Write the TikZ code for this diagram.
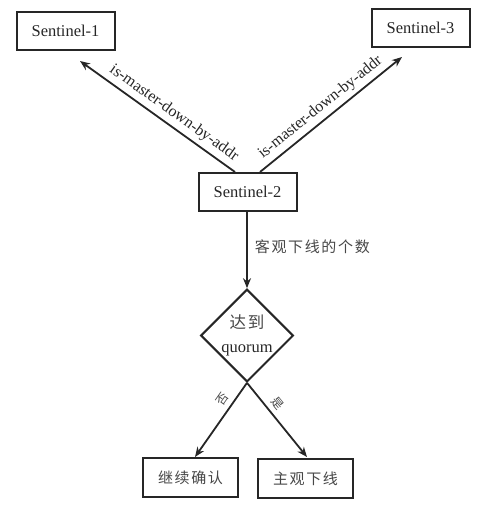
\documentclass[tikz,border=0pt]{standalone}
\usepackage{fontspec}
\setmainfont{Liberation Serif}
\newfontfamily\cjk[LetterSpace=11]{Noto Sans CJK SC}
\usetikzlibrary{shapes.geometric,arrows.meta}
\begin{document}
\begin{tikzpicture}[x=1pt,y=-1pt,
  ink/.style={draw=black!85, text=black!85},
  box/.style={ink, line width=2pt, minimum width=98pt, minimum height=38pt,
    inner sep=0pt, font=\fontsize{16.5}{19}\selectfont},
  cbox/.style={box, minimum width=95pt, minimum height=39pt,
    font=\cjk\fontsize{15}{18}\selectfont, text=black!72},
  decision/.style={ink, diamond, line width=2pt, minimum width=91pt,
    minimum height=91pt, inner sep=0pt, align=center,
    font=\fontsize{16.5}{24}\selectfont},
  arr/.style={draw=black!85, line width=1.8pt, -{Stealth[length=10pt,width=8pt]}},
  lbl/.style={text=black!85, font=\fontsize{16}{18}\selectfont, inner sep=4pt},
  clbl/.style={text=black!72, font=\cjk\fontsize{15}{18}\selectfont, inner sep=2pt},
  slbl/.style={text=black!72, font=\cjk\fontsize{12}{14}\selectfont, inner sep=5pt}
]
\useasboundingbox (0,0) rectangle (490,506);

% sentinels
\node[box] (s1) at (65.5,31) {Sentinel-1};
\node[box] (s3) at (420.5,27.5) {Sentinel-3};
\node[box] (s2) at (247.5,192) {Sentinel-2};

% quorum decision and outcomes
\node[decision] (q) at (247,335.5) {{\cjk\color{black!72}达到}\\quorum};
\node[cbox] (c1) at (190.5,477.5) {继续确认};
\node[cbox] (c2) at (305.5,478.5) {主观下线};

% queries to the other sentinels
\draw[arr] ([xshift=-12.5pt]s2.north) --
  node[lbl, sloped, above, pos=0.44] {is-master-down-by-addr}
  ([xshift=14.5pt,yshift=-10pt]s1.south);
\draw[arr] ([xshift=12.5pt]s2.north) --
  node[lbl, sloped, above, pos=0.48] {is-master-down-by-addr}
  ([xshift=-18.5pt,yshift=-9.5pt]s3.south);

% count of objective-down replies
\draw[arr] (s2.south -| q.north) --
  node[clbl, right, pos=0.456, xshift=5pt] {客观下线的个数} (q.north);

% decision branches
\draw[arr] (q.south) -- node[slbl, sloped, above, pos=0.3] {否}
  ([xshift=4.5pt]c1.north);
\draw[arr] (q.south) -- node[slbl, sloped, above, pos=0.37] {是}
  ([xshift=1.5pt,yshift=1pt]c2.north);
\end{tikzpicture}
\end{document}
